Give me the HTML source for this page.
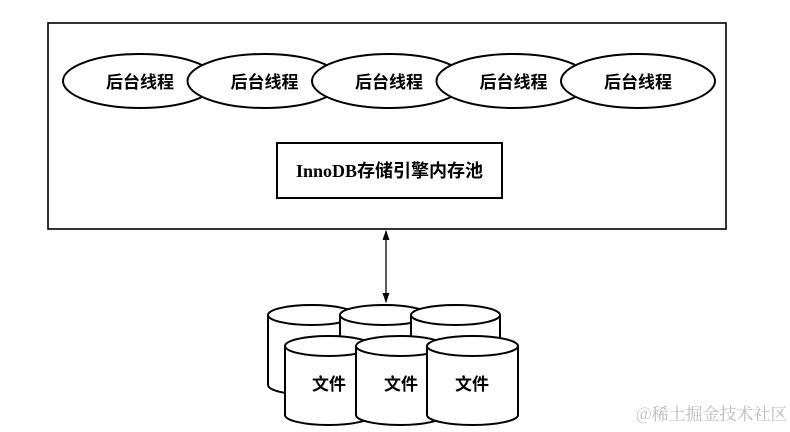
<!DOCTYPE html>
<html><head><meta charset="utf-8"><style>
html,body{margin:0;padding:0;background:#fff;}
svg{display:block;}
text{font-family:"Liberation Serif","Noto Sans CJK SC",sans-serif;font-weight:bold;fill:#000;}
</style></head><body>
<svg width="790" height="432" viewBox="0 0 790 432" xmlns="http://www.w3.org/2000/svg">
<defs>
<marker id="ah" markerWidth="10" markerHeight="10" refX="9" refY="5" orient="auto-start-reverse" markerUnits="userSpaceOnUse">
<path d="M0,1.5 L10,5 L0,8.5 Z" fill="#000"/></marker>
</defs>
<rect x="48" y="23" width="678" height="206" fill="#fff" stroke="#000" stroke-width="1.6"/>
<g fill="#fff" stroke="#000" stroke-width="2">
<ellipse cx="140" cy="81" rx="77" ry="27"/>
<ellipse cx="264.5" cy="81" rx="77" ry="27"/>
<ellipse cx="389" cy="81" rx="77" ry="27"/>
<ellipse cx="513.5" cy="81" rx="77" ry="27"/>
<ellipse cx="638" cy="81" rx="77" ry="27"/>
</g>
<g font-size="17" text-anchor="middle">
<text x="140" y="88">后台线程</text>
<text x="264.5" y="88">后台线程</text>
<text x="389" y="88">后台线程</text>
<text x="513.5" y="88">后台线程</text>
<text x="638" y="88">后台线程</text>
</g>
<rect x="277" y="143" width="225" height="55" fill="#fff" stroke="#000" stroke-width="2"/>
<text x="389.5" y="177" font-size="18" text-anchor="middle">InnoDB存储引擎内存池</text>
<line x1="386" y1="231" x2="386" y2="302" stroke="#000" stroke-width="1.3" marker-start="url(#ah)" marker-end="url(#ah)"/>
<g fill="#fff" stroke="#000" stroke-width="2">
<path d="M268,315 L268,385 A43.5,10 0 0 0 355,385 L355,315"/><ellipse cx="311.5" cy="315" rx="43.5" ry="10"/>
<path d="M340,315 L340,385 A44,10 0 0 0 428,385 L428,315"/><ellipse cx="384" cy="315" rx="44" ry="10"/>
<path d="M411,315 L411,385 A44.5,10 0 0 0 500,385 L500,315"/><ellipse cx="455.5" cy="315" rx="44.5" ry="10"/>
<path d="M285,346 L285,415 A43.5,10 0 0 0 372,415 L372,346"/><ellipse cx="328.5" cy="346" rx="43.5" ry="10"/>
<path d="M356,346 L356,415 A44,10 0 0 0 444,415 L444,346"/><ellipse cx="400" cy="346" rx="44" ry="10"/>
<path d="M427,346 L427,415 A45.5,10 0 0 0 518,415 L518,346"/><ellipse cx="472.5" cy="346" rx="45.5" ry="10"/>
</g>
<g font-size="17">
<text x="312" y="390">文件</text>
<text x="384" y="390">文件</text>
<text x="455" y="390">文件</text>
</g>
<text x="636" y="420" font-size="17" style="font-weight:normal;fill:#bbb;font-family:'Noto Serif CJK SC','Noto Sans CJK SC',serif">@稀土掘金技术社区</text>
</svg>
</body></html>
